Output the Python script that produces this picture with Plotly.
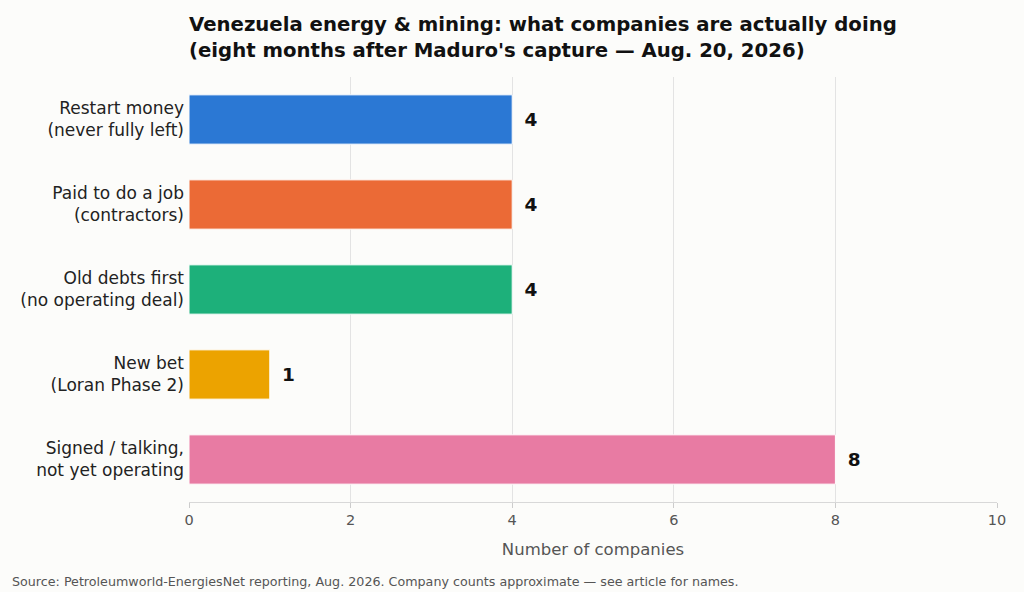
import plotly.graph_objects as go

# categories top to bottom
categories = ["Restart money<br>(never fully left)",
              "Paid to do a job<br>(contractors)",
              "Old debts first<br>(no operating deal)",
              "New bet<br>(Loran Phase 2)",
              "Signed / talking,<br>not yet operating"]
counts = [4, 4, 4, 1, 8]
bar_colors = ["#2b78d4", "#eb6a36", "#1db07a", "#eca300", "#e87ba3"]
x_ticks = [0, 2, 4, 6, 8, 10]

FONT = "DejaVu Sans"
BG = "#fcfcfa"

fig = go.Figure()
fig.add_trace(go.Bar(y=categories,
                     x=counts,
                     orientation="h",
                     width=0.58,
                     marker=dict(color=bar_colors, line=dict(color="white", width=1)),
                     text=counts,
                     texttemplate="\u2002%{text}",   # pad the label away from the bar end
                     textposition="outside",
                     textfont=dict(family=FONT, size=18.5, color="#111111", weight="bold"),
                     cliponaxis=False,
                     showlegend=False))

fig.update_layout(width=1024, height=592,
                  paper_bgcolor=BG, plot_bgcolor=BG,
                  margin=dict(l=189, r=27, t=77, b=90),
                  font=dict(family=FONT, color="#222222"),
                  title=dict(text="<b>Venezuela energy & mining: what companies are actually doing<br>"
                                  "(eight months after Maduro's capture — Aug. 20, 2026)</b>",
                             x=189/1024, xanchor="left", xref="container",
                             y=1 - 31/592, yanchor="top", yref="container",
                             font=dict(family=FONT, size=19.7, color="#111111")))

fig.update_xaxes(range=[0, 10], tickvals=x_ticks,
                 showgrid=True, gridcolor="#e3e3e3", gridwidth=1,
                 zeroline=False, showline=True, linecolor="#d8d8d8",
                 ticks="outside", ticklen=5, tickcolor="#cccccc",
                 tickfont=dict(family=FONT, size=14.5, color="#555555"),
                 title=dict(text="Number of companies", standoff=16,
                            font=dict(family=FONT, size=16.5, color="#555555")))
fig.update_yaxes(autorange="reversed", range=[4.52, -0.52],
                 showgrid=False, showline=False, ticks="",
                 ticklabelstandoff=4,
                 tickfont=dict(family=FONT, size=17, color="#222222"))

fig.add_annotation(text="Source: Petroleumworld-EnergiesNet reporting, Aug. 2026. Company counts approximate — see article for names.",
                   xref="paper", yref="paper", x=-179/808, y=-(581 - 502)/425,
                   xanchor="left", yanchor="middle", showarrow=False,
                   font=dict(family=FONT, size=12.7, color="#555555"))

# drop the default page margin so the figure sits at the window corner
fig.write_html("out.html", config={"displayModeBar": False},
               post_script="document.body.style.margin='0';")
